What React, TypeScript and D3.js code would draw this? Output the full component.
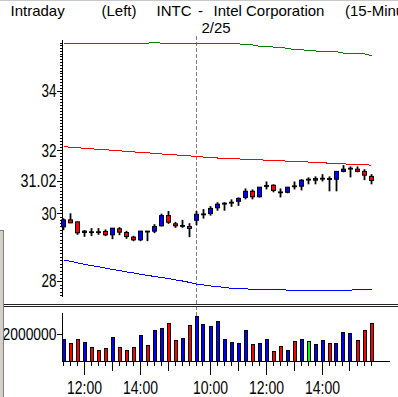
import React from "react";
import * as d3 from "d3";

// ---- data ----
const days = [
  "2/24","2/24","2/24","2/24","2/24","2/24","2/24","2/24","2/24","2/24",
  "2/24","2/24","2/24","2/24","2/24","2/24","2/24","2/24","2/24",
  "2/25","2/25","2/25","2/25","2/25","2/25","2/25","2/25","2/25","2/25",
  "2/25","2/25","2/25","2/25","2/25","2/25","2/25","2/25","2/25","2/25",
  "2/25","2/25","2/25","2/25","2/25","2/25",
];
const times = [
  "11:15","11:30","11:45","12:00","12:15","12:30","12:45","13:00","13:15","13:30",
  "13:45","14:00","14:15","14:30","14:45","15:00","15:15","15:30","15:45",
  "9:30","9:45","10:00","10:15","10:30","10:45","11:00","11:15","11:30","11:45",
  "12:00","12:15","12:30","12:45","13:00","13:15","13:30","13:45","14:00","14:15",
  "14:30","14:45","15:00","15:15","15:30","15:45",
];
const opens = [
  29.59, 29.80, 29.74, 29.42, 29.44, 29.44, 29.45, 29.35, 29.53, 29.42,
  29.28, 29.20, 29.46, 29.46, 29.62, 29.93, 29.68, 29.62, 29.60,
  29.79, 29.97, 29.99, 30.17, 30.30, 30.33, 30.37, 30.49, 30.68, 30.51,
  30.84, 30.87, 30.66, 30.65, 30.85, 30.84, 31.06, 31.03, 31.08, 31.08,
  31.06, 31.31, 31.40, 31.38, 31.31, 31.15,
];
const highs = [
  29.85, 30.00, 29.75, 29.49, 29.55, 29.55, 29.51, 29.55, 29.58, 29.47,
  29.32, 29.47, 29.47, 29.67, 29.99, 30.07, 29.74, 29.80, 29.70,
  30.07, 30.13, 30.22, 30.34, 30.34, 30.43, 30.49, 30.77, 30.74, 30.81,
  30.99, 30.90, 30.77, 30.81, 30.99, 31.06, 31.12, 31.15, 31.22, 31.15,
  31.31, 31.51, 31.47, 31.47, 31.38, 31.22,
];
const lows = [
  29.49, 29.70, 29.35, 29.29, 29.31, 29.35, 29.31, 29.22, 29.34, 29.23,
  29.16, 29.16, 29.16, 29.40, 29.60, 29.68, 29.56, 29.56, 29.28,
  29.64, 29.84, 29.93, 30.08, 30.08, 30.20, 30.23, 30.43, 30.43, 30.49,
  30.74, 30.65, 30.49, 30.62, 30.74, 30.71, 30.90, 30.90, 30.99, 30.68,
  30.68, 31.28, 31.12, 31.28, 31.03, 30.90,
];
const closes = [
  29.80, 29.71, 29.41, 29.46, 29.43, 29.43, 29.35, 29.55, 29.43, 29.30,
  29.20, 29.46, 29.45, 29.60, 29.93, 29.73, 29.62, 29.63, 29.54,
  29.97, 29.98, 30.15, 30.28, 30.31, 30.34, 30.46, 30.68, 30.51, 30.81,
  30.86, 30.71, 30.65, 30.81, 30.84, 31.03, 31.06, 31.08, 31.09, 31.06,
  31.31, 31.38, 31.41, 31.31, 31.19, 31.02,
];
const volumes = [
  1650000, 1370000, 1650000, 1450000, 1050000, 820000, 970000, 1800000, 1050000, 820000,
  1050000, 1970000, 1220000, 2320000, 2470000, 2850000, 1570000, 1720000, 2720000,
  3370000, 2770000, 2620000, 3000000, 1650000, 1420000, 1350000, 2320000, 1270000, 1350000,
  1650000, 750000, 1120000, 820000, 1500000, 1650000, 1500000, 1270000, 1570000, 1350000,
  1350000, 2170000, 2100000, 1570000, 2320000, 2850000,
];
const upperBand = [
  35.66, 35.66, 35.68, 35.68, 35.68, 35.68, 35.68, 35.68, 35.68, 35.68,
  35.68, 35.68, 35.68, 35.72, 35.68, 35.68, 35.68, 35.68, 35.68,
  35.68, 35.68, 35.68, 35.66, 35.66, 35.66, 35.66, 35.62, 35.62, 35.57,
  35.57, 35.54, 35.54, 35.49, 35.45, 35.45, 35.40, 35.40, 35.37, 35.37,
  35.37, 35.32, 35.32, 35.29, 35.29, 35.23,
];
const middleBand = [
  32.11, 32.09, 32.07, 32.06, 32.04, 32.02, 32.01, 31.99, 31.97, 31.96,
  31.94, 31.92, 31.91, 31.89, 31.87, 31.86, 31.84, 31.82, 31.81,
  31.79, 31.77, 31.75, 31.74, 31.73, 31.72, 31.71, 31.70, 31.69, 31.68,
  31.67, 31.66, 31.65, 31.64, 31.63, 31.62, 31.61, 31.60, 31.59, 31.57,
  31.56, 31.55, 31.54, 31.53, 31.52, 31.51,
];
const lowerBand = [
  28.61, 28.57, 28.52, 28.48, 28.44, 28.41, 28.37, 28.33, 28.30, 28.26,
  28.23, 28.19, 28.16, 28.13, 28.10, 28.07, 28.03, 28.00, 27.96,
  27.91, 27.89, 27.86, 27.84, 27.82, 27.79, 27.79, 27.78, 27.76, 27.76,
  27.76, 27.76, 27.76, 27.74, 27.74, 27.74, 27.74, 27.74, 27.74, 27.74,
  27.74, 27.74, 27.74, 27.76, 27.76, 27.76,
];
const priceTicks = [28, 30, 32, 34];
const lastPrice = 31.02;
const volumeTicks = [2000000];
const titleParts = ["Intraday", "(Left)", "INTC", "-", "Intel Corporation", "(15-Minute)"];

const FONT = "'Liberation Sans', Arial, sans-serif";

export default function App() {
  const n = closes.length;
  const x = d3.scaleLinear().domain([0, n - 1]).range([63.5, 371.5]);
  const y = d3.scaleLog().domain([27.547, 35.797]).range([297, 40]);
  const yv = d3.scaleLinear().domain([0, 3600000]).range([361, 313]);

  const line = d3
    .line<number>()
    .x((_, i) => x(i))
    .y((d) => y(d));

  const minorTicks = d3.range(276, 358).map((v) => v / 10);

  const colorOf = (i: number) =>
    closes[i] > opens[i] ? "#0000ff" : closes[i] < opens[i] ? "#ff0000" : "#00ff00";

  const breakIdx = days.findIndex((d, i) => i > 0 && d !== days[i - 1]);

  const tickKind = (t: string) => {
    const [h, m] = t.split(":").map(Number);
    if (m !== 0) return 0;
    return h % 2 === 0 ? 2 : 1;
  };

  const titleX = [10.5, 101.5, 156.5, 198, 213.5, 345];

  return (
    <svg
      width={398}
      height={397}
      style={{ position: "fixed", left: 0, top: 0, background: "#fff" }}
      fontFamily={FONT}
    >
      <rect x={0} y={0} width={398} height={397} fill="#fff" />
      <line x1={0} x2={398} y1={0.5} y2={0.5} stroke="#c8c8c8" />

      {/* title */}
      {titleParts.map((t, i) => (
        <text key={t} x={titleX[i]} y={16} fontSize={15} fill="#000">
          {t}
        </text>
      ))}

      {/* day break */}
      <line
        x1={x(breakIdx)}
        x2={x(breakIdx)}
        y1={36}
        y2={361}
        stroke="#808080"
        strokeDasharray="4,2"
        shapeRendering="crispEdges"
      />
      <text x={x(breakIdx) + 5} y={33} fontSize={15}>
        {days[breakIdx]}
      </text>

      {/* price axis */}
      <line x1={62.5} x2={62.5} y1={40} y2={297} stroke="#000" shapeRendering="crispEdges" />
      {minorTicks.map((v) => (
        <line
          key={v}
          x1={60}
          x2={62.5}
          y1={Math.round(y(v)) + 0.5}
          y2={Math.round(y(v)) + 0.5}
          stroke="#000"
          shapeRendering="crispEdges"
        />
      ))}
      {[...priceTicks, lastPrice].map((v) => {
        const w = v === lastPrice ? 36 : 15;
        return (
          <g key={v}>
            <line
              x1={57}
              x2={62.5}
              y1={Math.round(y(v)) + 0.5}
              y2={Math.round(y(v)) + 0.5}
              stroke="#000"
              shapeRendering="crispEdges"
            />
            <text
              x={56.5 - w}
              y={y(v) + 6.5}
              fontSize={18}
              textLength={w}
              lengthAdjust="spacingAndGlyphs"
            >
              {v === lastPrice ? v.toFixed(2) : String(v)}
            </text>
          </g>
        );
      })}

      {/* bands */}
      <path d={line(upperBand) || ""} fill="none" stroke="#008000" strokeWidth={1} shapeRendering="crispEdges" />
      <path d={line(middleBand) || ""} fill="none" stroke="#ff0000" strokeWidth={1} shapeRendering="crispEdges" />
      <path d={line(lowerBand) || ""} fill="none" stroke="#0000ff" strokeWidth={1} shapeRendering="crispEdges" />

      {/* candles */}
      {closes.map((c, i) => {
        const cx = x(i);
        const o = opens[i];
        const top = y(Math.max(o, c));
        const bot = y(Math.min(o, c));
        return (
          <g key={i}>
            <line x1={cx} x2={cx} y1={y(highs[i])} y2={y(lows[i])} stroke="#000" strokeWidth={1.8} />
            <rect
              x={cx - 2}
              y={top}
              width={4}
              height={Math.max(bot - top, 0.8)}
              fill={colorOf(i)}
              stroke="#000"
              strokeWidth={1}
            />
          </g>
        );
      })}

      {/* separator */}
      <line x1={3} x2={398} y1={304.5} y2={304.5} stroke="#222" shapeRendering="crispEdges" />
      <line x1={3} x2={398} y1={306.5} y2={306.5} stroke="#222" shapeRendering="crispEdges" />

      {/* volume axis */}
      <line x1={62.5} x2={62.5} y1={313} y2={361} stroke="#000" shapeRendering="crispEdges" />
      {volumeTicks.map((v) => (
        <g key={v}>
          <line x1={57} x2={62.5} y1={Math.round(yv(v)) + 0.5} y2={Math.round(yv(v)) + 0.5} stroke="#000" shapeRendering="crispEdges" />
          <text
            x={56.5 - 54}
            y={yv(v) + 6}
            fontSize={17}
            textLength={54}
            lengthAdjust="spacingAndGlyphs"
          >
            {String(v)}
          </text>
        </g>
      ))}

      {/* volume bars */}
      {volumes.map((v, i) => (
        <rect
          key={i}
          x={Math.round(x(i)) - 2}
          y={Math.round(yv(v))}
          width={3}
          height={361 - Math.round(yv(v))}
          fill={colorOf(i)}
          stroke="#000"
          strokeWidth={1}
          shapeRendering="crispEdges"
        />
      ))}
      <line x1={62} x2={390} y1={361.5} y2={361.5} stroke="#000" shapeRendering="crispEdges" />

      {/* time axis ticks */}
      {times.map((t, i) => {
        const k = tickKind(t);
        const len = k === 2 ? 14 : k === 1 ? 10 : 5;
        const xx = Math.round(x(i)) - 0.5;
        return (
          <g key={i}>
            <line x1={xx} x2={xx} y1={361} y2={361 + len} stroke="#000" shapeRendering="crispEdges" />
            {k === 2 && (
              <text
                x={x(i) - 17.5}
                y={394}
                fontSize={18}
                textLength={35}
                lengthAdjust="spacingAndGlyphs"
              >
                {t}
              </text>
            )}
          </g>
        );
      })}

      {/* left window chrome */}
      <rect x={0} y={230} width={3} height={167} fill="#d4d0c8" />
      <line x1={3.5} x2={3.5} y1={230} y2={397} stroke="#808080" />
      <line x1={0} x2={3.5} y1={230.5} y2={230.5} stroke="#808080" />
    </svg>
  );
}
